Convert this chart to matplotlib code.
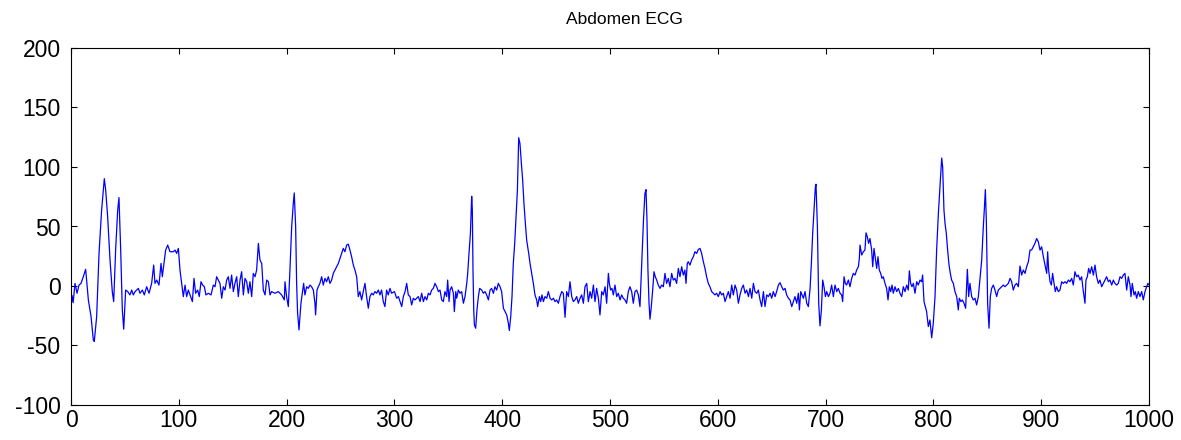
import matplotlib
matplotlib.use('Agg')
import matplotlib.pyplot as plt
import numpy as np

# sample index / amplitude pairs, one block per 100 samples
x_000 = [0, 1, 2, 3.7, 5.6, 7.4, 9.3, 11.4, 13.6, 14.5, 16.1, 18.6, 20.7, 21.6, 23.8, 26, 28.4, 30.9,
         32.2, 34, 36.2, 38.3, 39.6, 41.4, 43.3, 44.5, 46.1, 47.6, 48.9, 50.7, 52.6, 54.7, 56.3, 57.8,
         59.4, 62.5, 64, 66.2, 68, 70.2, 72.4, 74.8, 76.7, 77.9, 79.5, 81.6, 83.5, 84.7, 86.6, 87.8,
         89.7, 91.8, 94.9, 96.5, 98, 99.6]
y_000 = [-18, -8, -14, 2.2, -6.1, 0.8, 2.2, 7.8, 14, 5, -11.7, -25.7, -45.3, -46.6, -25.7, 27.4, 63.7, 90.2,
         80.4, 58.1, 21.8, -4.7, -13.1, 30.2, 63.7, 74.3, 30.2, -20.1, -36.3, -3.4, -4.7, -7.5, -3.4, -7.5,
         -4.7, -2, -6.1, -3.4, -7.5, -0.6, -6.1, 2.2, 17.6, 2.2, 5, 0.8, 19, 7.8, 21.8, 30.2,
         34.4, 28.8, 28.8, 30.2, 27.4, 31.6]

x_100 = [101.1, 102.7, 104.2, 105.8, 107.3, 108.8, 110.4, 112.6, 114.1, 115.6, 117.5, 119.0, 120.6, 122.1,
         123.7, 125.2, 127.4, 129.9, 132.0, 133.6, 135.1, 136.7, 138.2, 139.8, 141.3, 142.9, 144.4, 145.9,
         147.5, 149.0, 150.6, 152.1, 153.7, 155.2, 156.8, 158.3, 159.9, 161.4, 163.0, 164.5, 166.0, 167.6,
         169.1, 170.7, 172.2, 173.8, 175.3, 176.9, 178.4, 180.0, 181.5, 183.1, 184.6, 186.1, 189.2, 192.3,
         195.4, 197.9, 198.5]
y_100 = [13.4, 2.2, -8.9, 0.8, -8.9, -3.4, -7.5, -13.1, 6.4, -6.1, -3.4, -8.9, 3.6, 0.8,
         -0.6, -7.5, -6.1, -7.5, 0.8, -0.6, 7.8, 5, 2.2, -10.3, -0.6, -3.4, 5, 7.8,
         -2, 9.2, -4.7, 2.2, 7.8, -8.9, 5, 12, -7.5, 6.4, 3.6, -6.1, 3.6, -8.9,
         10.6, 7.8, 13.4, 35.8, 21.8, 19, -3.4, -7.5, 5, 3.6, -7.5, -4.7, -6.1, -4.7,
         -7.5, -11.7, 3.6]

x_200 = [200.0, 201.6, 203.1, 204.7, 206.2, 207.1, 208.4, 209.3, 210.2, 211.5, 213.3, 214.6, 215.8, 217.0,
         218.6, 220.1, 221.7, 223.2, 224.8, 226.3, 226.9, 228.2, 229.4, 230.9, 232.5, 234.0, 235.6, 237.1,
         238.7, 240.2, 241.8, 243.3, 244.9, 246.4, 248.0, 249.5, 251.0, 252.6, 254.1, 255.7, 257.2, 258.8,
         260.3, 261.9, 263.4, 265.0, 266.5, 268.0, 269.6, 271.1, 272.7, 274.2, 275.8, 277.3, 278.9, 280.4,
         282.0, 283.5, 285.1, 286.6, 288.1, 289.7, 291.2, 292.8, 294.3, 295.9, 297.4, 299.9]
y_200 = [-8.9, -17.3, 13.4, 49.7, 69.3, 78.2, 49.7, 2.2, -22.9, -36.9, -14.5, -6.1, 2.2, -7.5,
         -0.6, -2, 0.8, -0.6, -3.4, -14.5, -24.3, -3.4, -0.6, 2.2, 7.8, 0.8, 6.4, 3.6,
         7.8, 2.2, 5, 10.6, 13.4, 16.2, 19, 23.2, 27.4, 31.6, 28.8, 34.4, 35.2, 30.2,
         24.6, 17.6, 13.4, 7.8, -8.9, -4.7, -11.7, -4.7, 2.2, -8.9, -18.7, -8.9, -6.1, -7.5,
         -4.7, -6.1, -3.4, -7.5, -3.4, -13.1, -17.3, -3.4, -7.5, -2, -6.1, -4.7]

x_300 = [300.6, 302.1, 303.7, 305.2, 306.8, 308.3, 309.9, 311.4, 312.9, 314.5, 316.0, 317.6, 319.1, 320.7,
         322.2, 323.8, 325.3, 326.9, 328.4, 330.0, 331.5, 333.0, 334.6, 336.1, 337.7, 339.2, 340.8, 342.3,
         343.9, 345.4, 346.9, 348.5, 349.4, 350.7, 351.6, 353.1, 354.7, 355.6, 356.9, 357.8, 359.3, 360.9,
         362.4, 364.0, 365.5, 367.1, 368.0, 369.2, 370.5, 371.7, 372.3, 372.9, 373.6, 374.2, 375.4, 376.6,
         377.9, 379.1, 381.0, 382.5, 384.1, 385.6, 387.2, 388.7, 390.2, 391.8, 393.3, 394.9, 396.4, 398.0,
         399.5]
y_300 = [-6.1, -10.3, -8.9, -13.1, -17.3, -8.9, -4.7, 2.2, -7.5, -8.9, -15.9, -10.3, -11.7, -10.3,
         -8.9, -13.1, -6.1, -13.1, -8.9, -11.7, -6.1, -7.5, -3.4, -2, 2.2, -0.6, -4.7, -3.4,
         -11.7, -13.1, -4.7, -8.9, 5, -13.1, -3.4, -0.6, -6.1, -21.5, -4.7, -10.3, -3.4, -6.1,
         -4.7, -14.5, -8.9, 2.2, 10.6, 27.4, 44.1, 75.4, 63.7, 13.4, -20.1, -32.7, -35.5, -20.1,
         -8.9, -2, -3.4, -6.1, -4.7, -7.5, -11.7, -3.4, -2, -6.1, -0.6, -3.4, 2.2, -0.6,
         -4.7]

x_400 = [401.1, 402.6, 404.2, 405.7, 406.6, 407.9, 409.1, 410.3, 411.6, 412.8, 414.1, 415.3, 416.5, 417.8,
         419.0, 420.2, 421.5, 422.7, 424.6, 425.8, 427.4, 428.9, 430.4, 432.0, 432.9, 434.5, 435.7, 436.9,
         438.2, 439.7, 441.3, 442.8, 444.4, 445.9, 447.5, 449.0, 450.5, 452.1, 453.6, 455.2, 456.7, 458.3,
         459.8, 461.4, 462.9, 464.5, 466.0, 467.5, 469.1, 470.6, 472.2, 473.7, 475.3, 476.8, 478.4, 479.9,
         481.5, 483.0, 484.6, 486.1, 487.6, 489.2, 490.7, 492.3, 493.8, 495.4, 496.9, 498.5]
y_400 = [-18.7, -21.5, -24.3, -31.3, -37.4, -25.7, -8.9, 19, 35.8, 58.1, 80.4, 124.6, 119.6, 102.8,
         88.8, 69.3, 52.5, 38.5, 27.4, 19, 10.6, 2.2, -7.5, -11.7, -17.3, -8.9, -13.1, -7.5,
         -13.1, -8.9, -10.3, -4.7, -10.3, -11.7, -10.3, -13.1, -11.7, -14.5, -8.9, -4.7, -6.1, -26.3,
         -4.7, -8.9, 3.6, -8.9, -13.1, -11.7, -8.9, -14.5, -10.3, -7.5, -14.5, -0.6, 2.2, -13.1,
         -4.7, -10.3, 0.8, -13.1, -2, -10.3, -24.3, -4.7, -7.5, -0.6, -14.5, 10.6]

x_500 = [499.4, 500.6, 501.8, 503.1, 504.6, 506.2, 507.7, 509.3, 510.8, 512.3, 513.9, 515.4, 517.0, 518.5,
         520.1, 521.6, 523.2, 524.7, 526.3, 527.8, 528.7, 530.0, 531.2, 532.4, 533.4, 534.3, 535.2, 536.2,
         537.1, 538.3, 539.6, 540.8, 542.0, 543.3, 544.8, 546.4, 547.9, 549.5, 551.0, 552.5, 554.1, 555.6,
         557.2, 558.7, 560.3, 561.8, 563.4, 564.9, 566.5, 568.0, 569.5, 570.5, 571.7, 572.6, 574.2, 575.7,
         577.3, 578.8, 580.4, 581.9, 583.5, 585.0, 586.6, 588.1, 589.6, 591.2, 592.7, 594.3, 595.8, 597.4,
         598.9, 600.5]
y_500 = [2.2, -3.4, -2, -7.5, 0.8, -8.9, -6.1, -11.7, -7.5, -10.3, -11.7, -14.5, -4.7, -0.6,
         -4.7, -14.5, -4.7, -3.4, -7.5, -17.3, 2.2, 30.2, 58.1, 77.7, 81, 55.3, 13.4, -14.5,
         -27.9, -17.3, -3.4, 12, 7.8, 5, 0.8, -2, 0.8, -0.6, 10.6, 2.2, 6.4, -0.6,
         10.6, 5, 6.4, 2.2, 14.8, 7.8, 16.2, 9.2, 13.4, 2.2, 19, 20.4, 17.6, 21.8,
         24.6, 28.8, 27.4, 30.7, 31.6, 27.4, 20.4, 14.8, 7.8, 2.2, -0.6, -4.7, -6.1, -7.5,
         -6.1, -8.9]

x_600 = [602.1, 603.6, 605.2, 606.7, 608.3, 609.8, 611.4, 612.9, 614.4, 616.0, 617.5, 619.1, 620.6, 622.2,
         623.7, 625.3, 626.8, 628.4, 629.9, 631.5, 633.0, 634.5, 636.1, 637.6, 639.2, 640.7, 642.3, 643.8,
         645.4, 646.9, 648.5, 650.0, 651.5, 653.1, 654.6, 656.2, 657.7, 659.3, 660.8, 662.4, 663.9, 665.5,
         667.0, 668.6, 670.1, 671.6, 673.2, 674.7, 675.7, 676.9, 678.1, 679.4, 680.9, 682.5, 684.0, 685.6,
         686.8, 688.0, 689.3, 690.5, 691.1, 692.4, 693.0, 693.6, 694.8, 696.1, 697.3, 698.5, 699.8]
y_600 = [-4.7, -7.5, -6.1, -13.1, -8.9, -4.7, -10.3, 0.8, -7.5, 0.8, -3.4, -14.5, -7.5, -2,
         0.8, -6.1, -3.4, -8.9, -2, -10.3, 2.2, -4.7, -6.1, -3.4, -11.7, -17.3, -4.7, -17.3,
         -7.5, -8.9, -6.1, -10.3, -4.7, -8.9, -4.7, 0.8, 2.8, -0.6, -3.4, -2, -7.5, -10.3,
         -11.7, -17.3, -13.1, -8.9, -14.5, -6.1, -20.1, -4.7, -7.5, -10.3, -4.7, -14.5, -17.3, -2,
         19, 44.1, 63.7, 83.2, 85.5, 49.7, 16.2, -14.5, -33.5, -20.1, 5, -0.6, -8.9]

x_700 = [701.0, 702.6, 704.1, 705.6, 707.2, 708.7, 710.3, 711.8, 713.4, 714.9, 715.8, 717.1, 718.3, 719.5,
         721.1, 722.6, 724.2, 725.7, 727.3, 728.8, 730.4, 731.3, 731.9, 733.5, 735.0, 736.5, 737.5, 738.7,
         739.9, 741.2, 742.7, 743.7, 744.9, 746.1, 747.4, 748.6, 749.8, 751.1, 752.3, 753.5, 755.1, 756.6,
         757.9, 759.1, 760.4, 761.6, 762.8, 764.4, 765.9, 767.5, 769.0, 770.6, 772.1, 773.7, 775.2, 776.7,
         777.7, 778.9, 780.1, 781.4, 782.9, 784.5, 786.0, 787.6, 789.1, 790.0, 791.3, 792.5, 793.7, 795.3,
         796.8, 798.4]
y_700 = [-4.7, -8.9, -6.1, 0.8, -8.9, 0.8, -4.7, -2, -6.1, -7.5, -13.1, 7.8, 2.2, 0.8,
         5, -0.6, 6.4, 10.6, 9.2, 13.4, 16.2, 23.2, 34.4, 26, 28.8, 30.2, 44.7, 41.3,
         35.8, 39.9, 30.2, 16.2, 31.6, 23.2, 14.8, 24.6, 13.4, 10.6, 6.4, 7.8, 2.2, -2,
         -11.7, -0.6, -4.7, 0.8, -6.1, -0.6, -4.7, -2, -6.1, -8.9, -0.6, -4.7, 0.8, -3.4,
         12.8, 2.2, -0.6, 2.2, -6.1, 3.6, 0.8, 5, 3.6, 9.2, -13.1, -17.3, -21.5, -34.1,
         -28.5, -43.5]

x_800 = [799.9, 801.5, 803.0, 804.6, 806.1, 807.7, 808.6, 809.8, 810.8, 812.0, 813.2, 814.5, 815.7, 816.9,
         818.5, 820.0, 821.6, 823.1, 824.0, 825.6, 826.8, 828.4, 829.9, 831.5, 832.7, 833.9, 835.5, 837.0,
         838.6, 840.1, 841.7, 843.2, 844.8, 846.3, 847.2, 848.2, 849.1, 849.7, 850.3, 851.6, 852.8, 854.0,
         855.6, 857.1, 858.7, 860.2, 861.8, 863.3, 864.9, 866.4, 868.0, 869.5, 871.1, 872.6, 874.1, 875.7,
         877.2, 878.8, 880.3, 881.9, 883.4, 885.0, 886.5, 888.1, 889.6, 891.1, 892.7, 894.2, 895.8, 897.3,
         898.9]
y_800 = [-31.3, -8.9, 30.2, 60.9, 83.2, 107.5, 100, 63.7, 52.5, 44.1, 30.2, 17.6, 10.6, 5,
         2.2, -4.7, -8.9, -20.1, -10.3, -13.1, -11.7, -14.5, -18.7, 14, -8.9, 2.2, -8.9, -11.7,
         -10.3, -15.9, -8.9, 6.4, 21.8, 49.7, 63.7, 81, 55.3, 19, -14.5, -35.5, -8.9, -2,
         0.8, -3.4, -8.9, -3.4, -2, -0.6, 0.8, -0.6, 0.8, 2.2, 6.4, 3.6, -3.4, 0.8,
         2.2, -0.6, 16.8, 9.2, 13.4, 10.6, 16.2, 20.4, 30.2, 30.2, 33, 35.8, 39.9, 37.2,
         30.2]

x_900 = [900.4, 902.0, 903.5, 905.1, 906.0, 906.9, 908.2, 909.4, 910.6, 911.9, 913.1, 914.3, 915.9, 917.4,
         919.0, 920.5, 922.1, 923.6, 925.2, 926.7, 928.3, 929.8, 931.3, 932.9, 934.4, 936.0, 937.5, 939.1,
         940.6, 941.5, 942.8, 944.0, 945.3, 946.8, 948.4, 949.9, 951.4, 953.0, 954.5, 956.1, 957.6, 959.2,
         960.7, 962.3, 963.8, 965.4, 966.9, 968.4, 970.0, 971.5, 973.1, 974.6, 976.2, 977.7, 979.3, 980.8,
         982.4, 983.3, 984.5, 986.1, 987.3, 988.5, 990.1, 991.6, 993.2, 994.7, 996.3, 997.8, 999.0, 1000]
y_900 = [33, 24.6, 17.6, 10.6, 28.8, 13.4, 3.6, 0.8, 10.6, 2.2, -4.7, -0.6, -4.7, -3.4,
         3.6, 2.2, 3.6, 2.2, 5, 3.6, 6.4, 0.8, 12, 7.8, 9.2, 5, 7.8, -4.7,
         -14.5, 5, 7.8, 14.8, 10.6, 16.2, 9.2, 17.6, 7.8, 2.2, 5, -0.6, 2.2, 5,
         7.8, 3.6, 5, 0.8, 5, 2.2, 0.8, 2.2, 7.8, 6.4, 9.2, 10.6, -3.4, 7.8,
         0.8, -8.9, 2.2, -7.5, -4.7, -10.3, -4.7, -8.9, -4.7, -11.7, -4.7, -0.6, 2.2, 1]

xs = [x_000, x_100, x_200, x_300, x_400, x_500, x_600, x_700, x_800, x_900]
ys = [y_000, y_100, y_200, y_300, y_400, y_500, y_600, y_700, y_800, y_900]
sample = np.concatenate([np.array(s, dtype=float) for s in xs])
amplitude = np.concatenate([np.array(s, dtype=float) for s in ys])

plt.rcParams['font.family'] = ['Liberation Sans', 'DejaVu Sans']
plt.rcParams['axes.unicode_minus'] = False

fig = plt.figure(figsize=(11.81, 4.40), dpi=100)
ax = fig.add_axes([71 / 1181, 1 - 405 / 440, 1078 / 1181, 357 / 440])

ax.plot(sample, amplitude, color='#0000ff', linewidth=0.9)

ax.set_xlim(0, 1000)
ax.set_ylim(-100, 200)
ax.set_xticks(np.arange(0, 1001, 100))
ax.set_yticks(np.arange(-100, 201, 50))
ax.tick_params(direction='in', top=True, right=True, length=4.5, width=0.8,
               labelsize=16.5, color='black')
ax.tick_params(axis='y', pad=7.5)
ax.tick_params(axis='x', pad=3)
for sp in ax.spines.values():
    sp.set_linewidth(0.8)

ax.set_title('Abdomen ECG', fontsize=12.5, x=0.513, pad=17)

fig.savefig('out.png', dpi=100)
